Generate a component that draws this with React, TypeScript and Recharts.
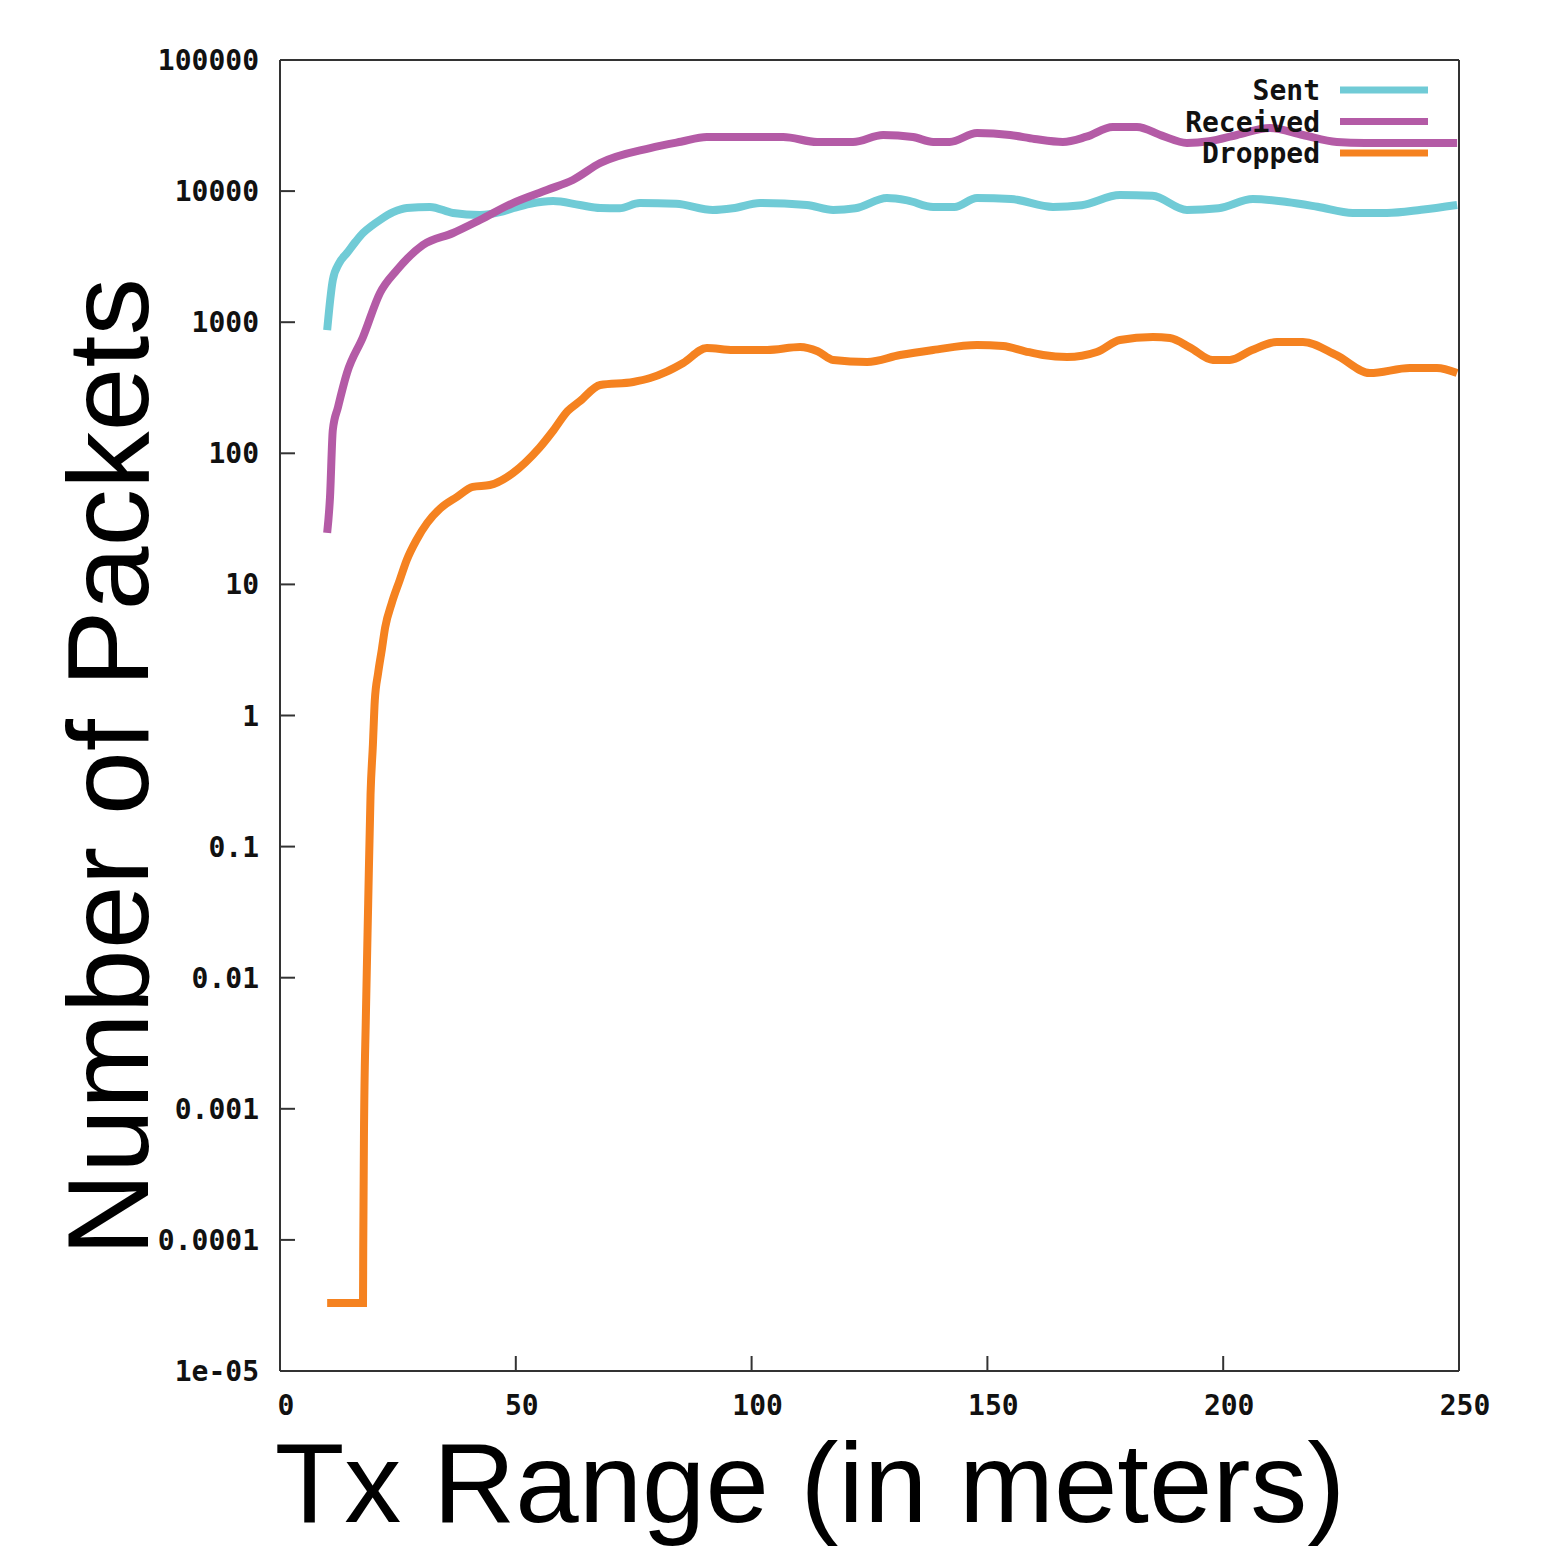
import { LineChart, Line, XAxis, YAxis, Legend } from 'recharts';

const RANGE_TICKS = [0, 50, 100, 150, 200, 250];
const PACKET_TICKS = [1e-5, 1e-4, 1e-3, 0.01, 0.1, 1, 10, 100, 1000, 10000, 100000];
const PACKET_TICK_LABELS = ['1e-05', '0.0001', '0.001', '0.01', '0.1', '1', '10', '100', '1000', '10000', '100000'];
const LEGEND_ORDER = ['Sent', 'Received', 'Dropped'];

const SENT_RANGE = [10, 11.2, 12.5, 14.2, 16, 17.6, 19.5, 21.2, 24, 26.9, 31.8, 36.7, 42.4, 46.6, 49.4, 53, 57.9, 63.6, 67.9, 72, 76.3, 84, 91.8, 96, 101.8, 111.7, 117.3, 122, 128.7, 133, 138.5, 143, 147.8, 155, 163.9, 170, 178.1, 185, 192.3, 199, 206.3, 213.5, 220, 227.5, 234.7, 242, 249.6];
const SENT_PACKETS = [870, 2100, 2800, 3370, 4100, 4790, 5450, 6020, 6900, 7430, 7570, 6810, 6580, 6900, 7400, 8000, 8400, 7830, 7430, 7400, 8110, 8000, 7180, 7400, 8110, 7830, 7180, 7400, 8850, 8500, 7570, 7570, 8850, 8700, 7570, 7800, 9330, 9200, 7180, 7400, 8700, 8260, 7600, 6810, 6810, 7200, 7830];

const RECEIVED_RANGE = [10, 10.6, 11.2, 12.3, 14.2, 17.6, 21.2, 24.8, 30.3, 36.7, 42.4, 49.4, 56.6, 62.1, 67.9, 78.5, 85, 90.5, 106.7, 113.9, 121.5, 127.9, 134.2, 138.5, 142, 147.8, 154.8, 160, 166, 171, 176.6, 181.7, 187, 192.3, 197, 202.9, 209.9, 216.9, 224.1, 230, 249.6];
const RECEIVED_PACKETS = [24.7, 46, 151, 225, 410, 771, 1670, 2500, 3880, 4790, 6020, 8110, 10200, 12160, 16370, 21300, 23800, 25860, 25860, 23700, 23700, 26800, 25860, 23700, 23700, 27750, 26800, 25000, 23700, 26000, 30800, 30800, 26500, 23300, 24000, 26800, 30300, 26800, 23700, 23300, 23300];

const DROPPED_RANGE = [10, 17.6, 17.65, 17.8, 18.2, 18.7, 19.2, 19.7, 20.1, 20.8, 21.6, 22.3, 23.7, 25.4, 26.9, 29, 31.2, 34, 37.5, 40.9, 44.5, 49.4, 52, 55, 58, 61, 63.6, 67.9, 74.9, 78.5, 82, 85.5, 90.5, 96.1, 103.3, 110.3, 114, 117.3, 124.5, 131.5, 138.5, 147.8, 153.3, 158, 161.8, 166.9, 173.2, 178.1, 185.1, 188.7, 193, 197.8, 201.4, 206, 211.4, 216.9, 224, 231.1, 239.6, 245.3, 249.6];
const DROPPED_PACKETS = [3.3e-5, 3.3e-5, 8.8e-5, 6.1e-4, 4.9e-3, 0.037, 0.25, 0.6, 1.3, 2.1, 3.2, 4.7, 7.2, 10.8, 15.4, 22, 29.4, 38, 46.4, 55.4, 57.3, 70.8, 85, 110, 150, 210, 250, 332, 350, 375, 420, 489, 636, 614, 614, 647, 600, 515, 497, 562, 614, 670, 658, 600, 562, 543, 593, 731, 771, 757, 640, 515, 515, 610, 706, 706, 560, 409, 447, 447, 409];

const COLORS = { sent: '#70cbd6', received: '#b45ba6', dropped: '#f58220' };

const toPoints = (xs: number[], ys: number[]) => xs.map((range, i) => ({ range, packets: ys[i] }));

const sentData = toPoints(SENT_RANGE, SENT_PACKETS);
const receivedData = toPoints(RECEIVED_RANGE, RECEIVED_PACKETS);
const droppedData = toPoints(DROPPED_RANGE, DROPPED_PACKETS);

const TICK_FONT = {
  fontFamily: '"DejaVu Sans Mono", monospace',
  fontWeight: 'bold' as const,
  fontSize: 28,
  fill: '#111',
};

const AXIS_STROKE = { stroke: '#333', strokeWidth: 2 };

const YTick = ({ x, y, payload }: any) => {
  const idx = PACKET_TICKS.findIndex((t) => Math.abs(Math.log10(t) - Math.log10(payload.value)) < 1e-6);
  return (
    <text x={x - 21} y={y + 10} textAnchor="end" style={TICK_FONT}>
      {idx >= 0 ? PACKET_TICK_LABELS[idx] : String(payload.value)}
    </text>
  );
};

const XTick = ({ x, y, payload }: any) => (
  <text x={x + 6} y={y + 44} textAnchor="middle" style={TICK_FONT}>
    {payload.value}
  </text>
);

const renderLegend = (props: any) => {
  const items = [...(props.payload ?? [])].sort(
    (a: any, b: any) => LEGEND_ORDER.indexOf(a.value) - LEGEND_ORDER.indexOf(b.value),
  );
  return (
    <svg width={340} height={100} style={{ display: 'block' }}>
      {items.map((item: any, i: number) => {
        const cy = 16 + i * 31.5;
        return (
          <g key={item.value}>
            <text x={220} y={cy + 10} textAnchor="end" style={TICK_FONT}>
              {item.value}
            </text>
            <line x1={240} x2={328} y1={cy} y2={cy} stroke={item.color} strokeWidth={7} />
          </g>
        );
      })}
    </svg>
  );
};

export default function App() {
  return (
    <div style={{ position: 'relative', width: 1540, height: 1541 }}>
      <LineChart width={1540} height={1541} margin={{ top: 42, right: 69, bottom: 18, left: 122 }}>
        <XAxis
          xAxisId="main"
          dataKey="range"
          type="number"
          domain={[0, 250]}
          ticks={RANGE_TICKS}
          allowDataOverflow
          height={60}
          axisLine={AXIS_STROKE}
          tickLine={AXIS_STROKE}
          tickSize={-15}
          tickMargin={15}
          tick={<XTick />}
        />
        <XAxis
          xAxisId="mirror"
          orientation="top"
          type="number"
          domain={[0, 250]}
          ticks={RANGE_TICKS}
          allowDataOverflow
          height={10}
          axisLine={AXIS_STROKE}
          tickLine={AXIS_STROKE}
          tickSize={-15}
          tick={false}
        />
        <YAxis
          yAxisId="main"
          scale="log"
          type="number"
          domain={[1e-5, 1e5]}
          ticks={PACKET_TICKS}
          allowDataOverflow
          width={150}
          axisLine={AXIS_STROKE}
          tickLine={AXIS_STROKE}
          tickSize={-15}
          tickMargin={15}
          tick={<YTick />}
        />
        <YAxis
          yAxisId="mirror"
          orientation="right"
          scale="log"
          type="number"
          domain={[1e-5, 1e5]}
          ticks={PACKET_TICKS}
          allowDataOverflow
          width={20}
          axisLine={AXIS_STROKE}
          tickLine={AXIS_STROKE}
          tickSize={-15}
          tick={false}
        />
        <Legend
          content={renderLegend}
          wrapperStyle={{ position: 'absolute', left: 1092, top: 66, width: 340, height: 100 }}
        />
        <Line
          xAxisId="main"
          yAxisId="main"
          data={sentData}
          dataKey="packets"
          name="Sent"
          type="monotone"
          stroke={COLORS.sent}
          strokeWidth={8}
          dot={false}
          isAnimationActive={false}
        />
        <Line
          xAxisId="main"
          yAxisId="main"
          data={receivedData}
          dataKey="packets"
          name="Received"
          type="monotone"
          stroke={COLORS.received}
          strokeWidth={8}
          dot={false}
          isAnimationActive={false}
        />
        <Line
          xAxisId="main"
          yAxisId="main"
          data={droppedData}
          dataKey="packets"
          name="Dropped"
          type="monotone"
          stroke={COLORS.dropped}
          strokeWidth={8}
          dot={false}
          isAnimationActive={false}
        />
      </LineChart>
      <svg
        width={1540}
        height={1541}
        style={{ position: 'absolute', left: 0, top: 0, pointerEvents: 'none' }}
      >
        <text
          transform="translate(140,759) rotate(-90)"
          textAnchor="middle"
          style={{ fontFamily: '"Liberation Sans", Arial, sans-serif', fontSize: 115, fill: '#000' }}
        >
          Number of Packets
        </text>
        <text
          x={802}
          y={1514}
          textAnchor="middle"
          style={{ fontFamily: '"Liberation Sans", Arial, sans-serif', fontSize: 114, fill: '#000' }}
        >
          Tx Range (in meters)
        </text>
      </svg>
    </div>
  );
}
